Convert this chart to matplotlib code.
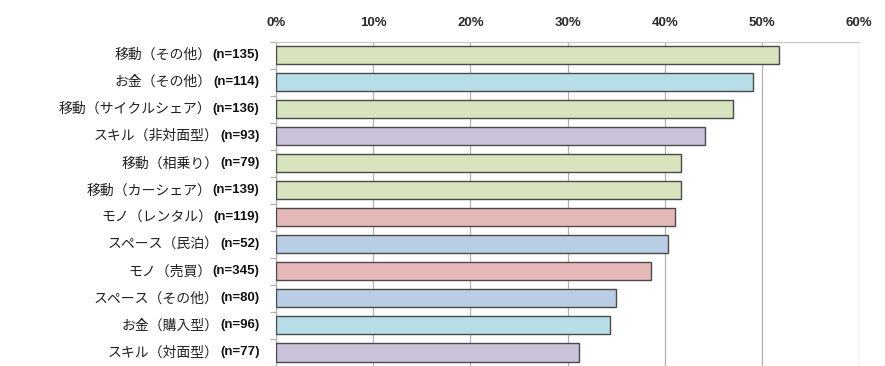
import matplotlib
matplotlib.use('Agg')
import matplotlib.pyplot as plt
from matplotlib.ticker import FixedLocator, PercentFormatter

# categories (top to bottom) and values (%)
labels = ['移動（その他）', 'お金（その他）', '移動（サイクルシェア）', 'スキル（非対面型）',
          '移動（相乗り）', '移動（カーシェア）', 'モノ（レンタル）', 'スペース（民泊）',
          'モノ（売買）', 'スペース（その他）', 'お金（購入型）', 'スキル（対面型）']
counts = [135, 114, 136, 93, 79, 139, 119, 52, 345, 80, 96, 77]
values = [51.8, 49.1, 47.0, 44.1, 41.7, 41.7, 41.1, 40.3, 38.6, 35.0, 34.4, 31.2]
groups = ['移動', 'お金', '移動', 'スキル', '移動', '移動', 'モノ', 'スペース',
          'モノ', 'スペース', 'お金', 'スキル']
group_colors = {'移動': '#D7E4BD', 'お金': '#B7DEE8', 'スキル': '#CCC1DA',
                'モノ': '#E6B9B8', 'スペース': '#B9CDE5'}
xticks = [0, 10, 20, 30, 40, 50, 60]

fig = plt.figure(figsize=(8.85, 3.66), dpi=100)
ax = fig.add_axes([0.312, 0.0, 0.6586, 0.8866])

y = list(range(len(labels)))
colors = [group_colors[g] for g in groups]
ax.barh(y, values, height=0.67, color=colors, edgecolor='#4a4a4a', linewidth=1.0, zorder=3)

ax.set_xlim(0, 60)
ax.set_ylim(len(labels) - 0.5, -0.5)
ax.xaxis.tick_top()
ax.set_xticks(xticks)
ax.xaxis.set_major_formatter(PercentFormatter(decimals=0))
ax.tick_params(axis='x', length=0, pad=9, labelsize=9.5)
for t in ax.get_xticklabels():
    t.set_fontfamily('Liberation Sans')
    t.set_fontweight('bold')
    t.set_color('#2a2a2a')
ax.grid(axis='x', color='#b0b0b0', linewidth=0.9, zorder=0)

# y ticks at category boundaries
ax.set_yticks([])
ax.yaxis.set_minor_locator(FixedLocator([i - 0.5 for i in range(len(labels) + 1)]))
ax.tick_params(axis='y', which='minor', length=4, color='#b0b0b0', width=0.9)

for s in ['right', 'bottom']:
    ax.spines[s].set_visible(False)
ax.spines['top'].set_color('#c8c8c8')
ax.spines['left'].set_color('#b0b0b0')
ax.spines['top'].set_linewidth(0.9)
ax.spines['left'].set_linewidth(0.9)

# category labels: japanese part + bold (n=...)
for i, (lab, n) in enumerate(zip(labels, counts)):
    nt = ax.annotate(f'(n={n})', xy=(0, i), xycoords=('axes fraction', 'data'),
                     xytext=(-12, 0), textcoords='offset points',
                     ha='right', va='center', fontsize=9.5, fontweight='bold',
                     family='Liberation Sans', color='#111111')
    ax.annotate(lab, xy=(0, 0.5), xycoords=nt, xytext=(-1, 0),
                textcoords='offset points', ha='right', va='center',
                fontsize=10, family=['Noto Sans CJK JP', 'DejaVu Sans'],
                color='#222222')

fig.savefig('out.png', dpi=100)
